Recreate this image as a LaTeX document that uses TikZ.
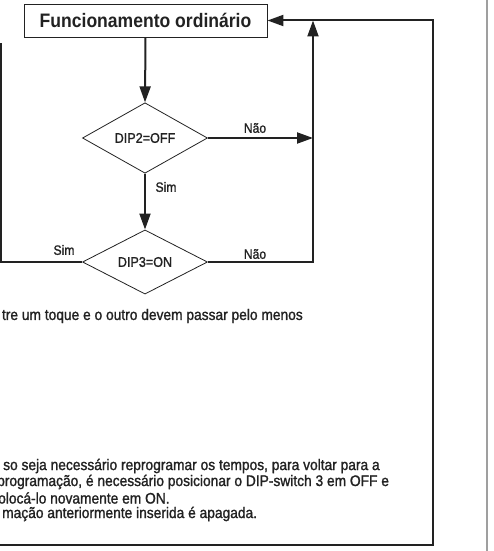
\documentclass[tikz,border=0pt]{standalone}
\usepackage{fontspec}
\setmainfont{Liberation Sans}[FakeStretch=0.9]
\newfontfamily\medfont{Liberation Sans}[FakeStretch=0.9,FakeBold=1.3]
\usetikzlibrary{shapes.geometric,arrows.meta}
\definecolor{ink}{HTML}{222222}
\tikzset{
  conn/.style={draw=ink,line width=2pt},
  arr/.style={conn,-{Triangle[length=16pt,width=11pt]}},
  dia/.style={diamond,draw=ink,line width=0.8pt,minimum width=125pt,minimum height=62pt,inner sep=0pt,font=\medfont\fontsize{14}{16}\selectfont,text=ink},
  lbl/.style={font=\medfont\fontsize{13.5}{16}\selectfont,text=ink,inner sep=0pt},
  body/.style={font=\medfont\fontsize{15.3}{16}\selectfont,text=ink,inner sep=0pt,anchor=west}
}
\begin{document}
\begin{tikzpicture}[x=1pt,y=-1pt]
\useasboundingbox (0,0) rectangle (493,551);
\fill[white] (0,0) rectangle (493,551);
% page edge
\draw[draw=gray!75,line width=2pt] (487,0) -- (487,551);
% title
\node[draw=ink,line width=0.9pt,minimum width=243pt,minimum height=33pt,inner sep=0pt,font=\bfseries\fontsize{19.5}{22}\selectfont,text=ink] (top) at (145.5,20.5) {Funcionamento ordinário};
\node[dia] (d1) at (145,138) {DIP2=OFF};
\node[dia] (d2) at (145,262) {DIP3=ON};
\coordinate (j1) at (313,138);
\coordinate (j2) at (313,262);
\coordinate (j3) at (313,20.5);
\coordinate (lb) at (1,262);
\coordinate (lt) at (1,43);
\coordinate (bl) at (-5,545);
\coordinate (br) at (433,545);
\coordinate (tr) at (433,20.5);
% connectors
\draw[arr] (top.south) -- (d1.north);
\draw[arr] (d1.south) -- (d2.north);
\draw[arr] (d1.east) -- (j1);
\draw[arr] (d2.east) -- (j2) -- (j3);
\draw[conn] (d2.west) -- (lb) -- (lt);
\draw[arr] (bl) -- (br) -- (tr) -- (top.east);
% labels
\node[lbl] (n1) at (255,128) {Não};
\node[lbl] (n2) at (255,254) {Não};
\node[lbl] (s1) at (166,187) {Sim};
\node[lbl] (s2) at (64,250) {Sim};
% body text
\node[body,anchor=east] (t0) at (303,316) {tre um toque e o outro devem passar pelo menos};
\node[body] (t1) at (3,466) {so seja necessário reprogramar os tempos, para voltar para a};
\node[body] (t2) at (-3,482) {programação, é necessário posicionar o DIP-switch 3 em OFF e};
\node[body] (t3) at (-2,498) {olocá-lo novamente em ON.};
\node[body] (t4) at (2,514) {mação anteriormente inserida é apagada.};
\end{tikzpicture}
\end{document}
